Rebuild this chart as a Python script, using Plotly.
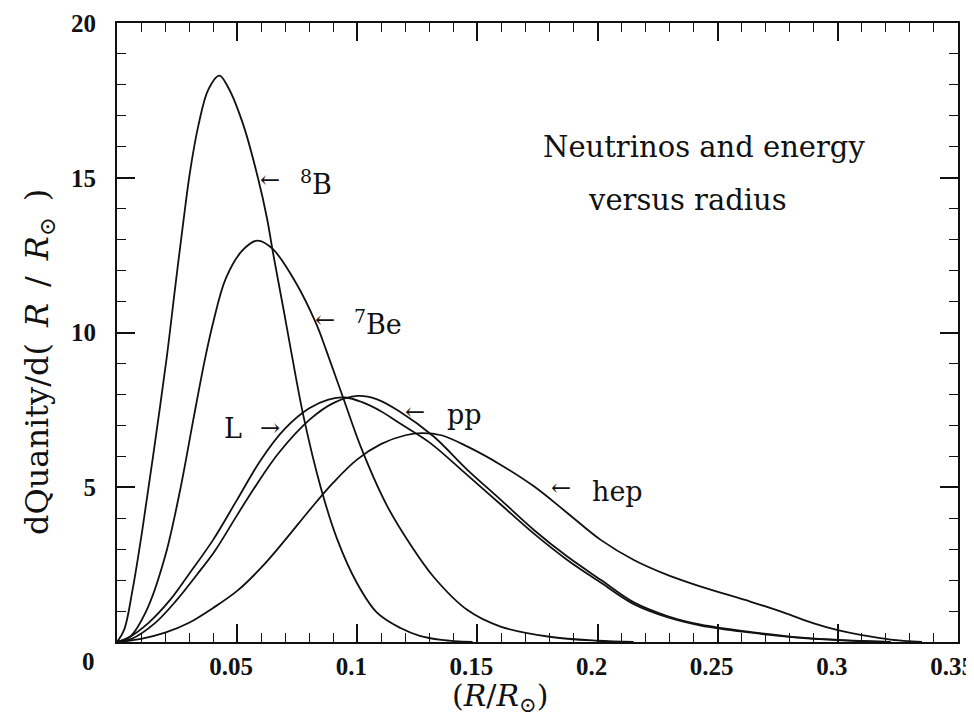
import plotly.graph_objects as go

# ---------------- data ----------------
x_8b = [0, 0.003, 0.0065, 0.0105, 0.0150, 0.0207, 0.0242, 0.0270, 0.0304, 0.0339, 0.0380,
        0.0426, 0.0464, 0.0526, 0.0588, 0.0624, 0.0651, 0.0693, 0.0728, 0.0776, 0.0846, 0.0915,
        0.0999, 0.1082, 0.1180, 0.1260, 0.1350, 0.1480]
y_8b = [0, 0.4, 1.7, 3.6, 6.0, 9.2, 11.45, 13.2, 15.2, 16.7, 17.85,
        18.3, 17.9, 16.7, 14.95, 13.7, 12.5, 10.75, 9.25, 7.3, 5.05, 3.35,
        1.9, 0.95, 0.45, 0.2, 0.07, 0]

x_7be = [0, 0.0054, 0.0124, 0.0200, 0.0263, 0.0318, 0.0365, 0.0401, 0.0453, 0.0522, 0.0585, 0.0648,
         0.0745, 0.0828, 0.0872, 0.0943, 0.1020, 0.1124, 0.1221, 0.1318, 0.1457, 0.1596, 0.1800,
         0.2000, 0.2150]
y_7be = [0, 0.17, 1.04, 2.76, 4.92, 7.2, 9.1, 10.35, 11.75, 12.65, 12.97, 12.7,
         11.6, 10.3, 9.4, 7.85, 6.2, 4.4, 3.15, 2.1, 1.04, 0.5, 0.17,
         0.04, 0]

x_L = [0, 0.005, 0.013, 0.0221, 0.030, 0.040, 0.050, 0.060, 0.070, 0.080, 0.088, 0.095, 0.102,
       0.110, 0.118, 0.130, 0.1457, 0.1596, 0.1735, 0.1874, 0.2013, 0.2151, 0.229, 0.243, 0.264,
       0.282, 0.300, 0.320]
y_L = [0, 0.15, 0.61, 1.36, 2.2, 3.3, 4.6, 5.9, 6.9, 7.55, 7.83, 7.9, 7.75,
       7.45, 7.05, 6.45, 5.4, 4.45, 3.5, 2.65, 1.92, 1.22, 0.8, 0.53, 0.3,
       0.15, 0.06, 0]

x_pp = [0, 0.006, 0.0158, 0.0249, 0.033, 0.0408, 0.050, 0.0582, 0.0672, 0.0804, 0.0900, 0.100,
        0.108, 0.1176, 0.1318, 0.1457, 0.1596, 0.1735, 0.1874, 0.2013, 0.2151, 0.229, 0.243,
        0.264, 0.282, 0.300, 0.322]
y_pp = [0, 0.1, 0.61, 1.36, 2.15, 2.95, 4.1, 5.1, 6.1, 7.2, 7.72, 7.95,
        7.85, 7.45, 6.64, 5.57, 4.6, 3.62, 2.76, 2.01, 1.28, 0.84, 0.56,
        0.32, 0.16, 0.07, 0]

x_hep = [0, 0.01, 0.02, 0.03, 0.04, 0.05, 0.06, 0.07, 0.08, 0.09, 0.10, 0.11, 0.12, 0.127, 0.135,
         0.1457, 0.1596, 0.1735, 0.1874, 0.2013, 0.2151, 0.229, 0.243, 0.2638, 0.2776, 0.290,
         0.300, 0.310, 0.322, 0.335]
y_hep = [0, 0.1, 0.3, 0.62, 1.1, 1.65, 2.4, 3.3, 4.25, 5.15, 5.9, 6.4, 6.68, 6.75, 6.68,
         6.32, 5.73, 5.03, 4.17, 3.3, 2.65, 2.17, 1.79, 1.3, 0.95, 0.6,
         0.38, 0.22, 0.08, 0]

x_tickvals = [0.05, 0.1, 0.15, 0.2, 0.25, 0.3, 0.35]
x_ticktext = ["0.05", "0.1", "0.15", "0.2", "0.25", "0.3", "0.35"]
y_tickvals = [5, 10, 15, 20]
y_ticktext = ["5", "10", "15", "20"]

INK = "#111111"
SERIF = "DejaVu Serif"

fig = go.Figure()
for xs, ys in [(x_8b, y_8b), (x_7be, y_7be), (x_L, y_L), (x_pp, y_pp), (x_hep, y_hep)]:
    fig.add_trace(go.Scatter(x=xs, y=ys, mode="lines",
                             line=dict(color=INK, width=1.8, shape="spline", smoothing=1.0),
                             showlegend=False, hoverinfo="skip"))

tickfont = dict(family="Liberation Serif", size=25, color=INK, weight="bold")
common = dict(ticks="inside", ticklen=18, tickwidth=1.6, tickcolor=INK,
              showline=True, linecolor=INK, linewidth=2, mirror="ticks",
              showgrid=False, zeroline=False, tickfont=tickfont, automargin=False,
              ticklabeloverflow="allow")
fig.update_xaxes(range=[0, 0.35], tickmode="array", tickvals=x_tickvals, ticktext=x_ticktext,
                 ticklabelstandoff=1, ticklabelshift=-6,
                 minor=dict(tickmode="linear", tick0=0, dtick=0.01, ticks="inside", ticklen=9,
                            tickwidth=1.4, tickcolor=INK, showgrid=False), **common)
fig.update_yaxes(range=[0, 20], tickmode="array", tickvals=y_tickvals, ticktext=y_ticktext,
                 ticklabelstandoff=14,
                 minor=dict(tickmode="linear", tick0=0, dtick=1, ticks="inside", ticklen=9,
                            tickwidth=1.4, tickcolor=INK, showgrid=False), **common)

# page has an 8px body margin; figure is sized so it exactly fills the window
# and the plot area lands at window x 117..958, y 23..642
W, H = 966, 710
ML, MR, MT, MB = 109, 16, 15, 76
PL, PT = 117, 23              # plot-area origin in window pixels
PW, PH = W - ML - MR, H - MT - MB


def px(xp, yp):
    return (xp - PL) / PW, (PT + PH - yp) / PH


anns = []


def add(text, xp, yp, size, family, xanchor="center", angle=0):
    x, y = px(xp, yp)
    anns.append(dict(text=text, x=x, y=y, xref="paper", yref="paper", showarrow=False,
                     xanchor=xanchor, yanchor="middle", textangle=angle,
                     font=dict(family=family, size=size, color=INK)))


# corner zero label
add("<b>0</b>", 88, 661, 25, "Liberation Serif")
# titles
add("(<i>R</i>/<i>R</i><sub>⊙</sub>)", 500, 697, 30, SERIF)
add("dQuanity/d(\u2002<i>R</i>\u2002/\u2002<i>R</i><sub>⊙</sub>\u2002)", 39, 362, 32, SERIF,
    angle=-90)
add("Neutrinos and energy", 704, 147, 29, SERIF)
add("versus radius", 687, 200, 29, SERIF)
# curve labels
add("←", 270, 180, 24, SERIF)
add("<sup>8</sup>B", 298, 182, 27, SERIF, xanchor="left")
add("←", 325, 320, 24, SERIF)
add("<sup>7</sup>Be", 352, 322, 27, SERIF, xanchor="left")
add("L", 233, 428, 27, SERIF)
add("→", 270, 428, 24, SERIF)
add("←", 415, 412, 24, SERIF)
add("pp", 464, 415, 27, SERIF)
add("←", 561, 488, 24, SERIF)
add("hep", 617, 491, 27, SERIF)

fig.update_layout(width=W, height=H, margin=dict(l=ML, r=MR, t=MT, b=MB, autoexpand=False),
                  plot_bgcolor="white", paper_bgcolor="white", showlegend=False,
                  annotations=anns)

fig.write_html("out.html")
